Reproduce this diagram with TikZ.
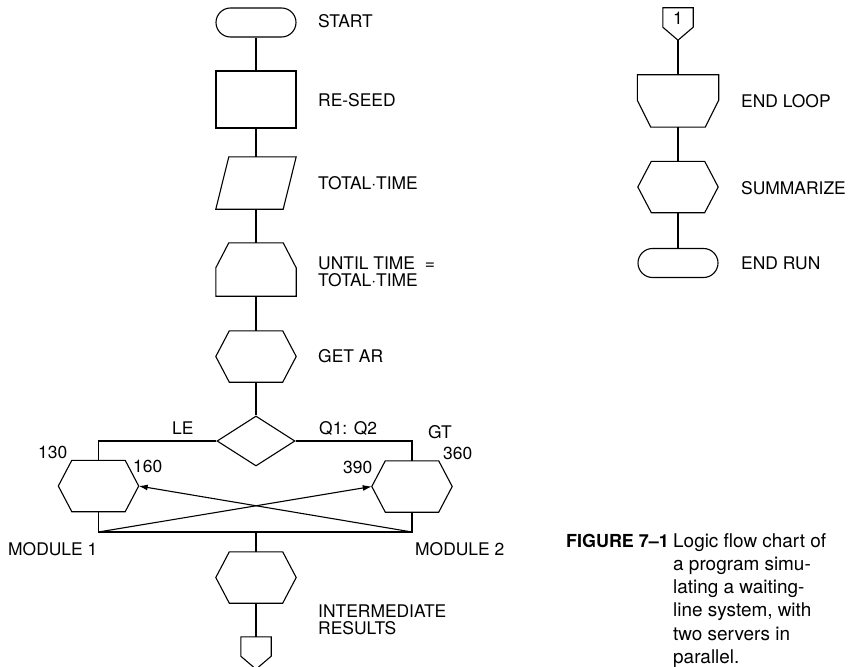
\documentclass[tikz,border=0pt]{standalone}
\usepackage{fontspec}
\setmainfont{TeX Gyre Heros}
\usetikzlibrary{arrows.meta, positioning, shapes.geometric, shapes.misc}
\newcommand{\lblfont}{\fontsize{17.5}{17}\selectfont}
\newcommand{\capfont}{\fontsize{19}{23.2}\selectfont}

\begin{document}
\begin{tikzpicture}[x=1bp, y=-1bp,
    every node/.style={inner sep=0pt},
    flow/.style={line width=1.1bp},
    terminal/.style={draw, line width=1.1bp, rounded rectangle, minimum width=80bp, minimum height=29bp},
    procbox/.style={draw, line width=1.1bp, rectangle, minimum width=80bp, minimum height=57bp},
    inputbox/.style={rectangle, minimum width=80bp, minimum height=52bp,
      append after command={\pgfextra{\draw[flow] ([xshift=13bp]\tikzlastnode.north west) -- (\tikzlastnode.north east)
        -- ([xshift=-13bp]\tikzlastnode.south east) -- (\tikzlastnode.south west) -- cycle;}}},
    loopstart/.style={rectangle, minimum width=80bp, minimum height=53bp,
      append after command={\pgfextra{\draw[flow] ([xshift=13bp]\tikzlastnode.north west) -- ([xshift=-13bp]\tikzlastnode.north east)
        -- ([yshift=-25bp]\tikzlastnode.north east) -- (\tikzlastnode.south east) -- (\tikzlastnode.south west)
        -- ([yshift=-25bp]\tikzlastnode.north west) -- cycle;}}},
    loopend/.style={rectangle, minimum width=81bp, minimum height=52bp,
      append after command={\pgfextra{\draw[flow] (\tikzlastnode.north west) -- (\tikzlastnode.north east)
        -- ([yshift=27bp]\tikzlastnode.south east) -- ([xshift=-13.5bp]\tikzlastnode.south east)
        -- ([xshift=13.5bp]\tikzlastnode.south west) -- ([yshift=27bp]\tikzlastnode.south west) -- cycle;}}},
    prep/.style={rectangle, minimum width=80bp, minimum height=51bp,
      append after command={\pgfextra{\draw[flow] ([xshift=13.5bp]\tikzlastnode.north west) -- ([xshift=-13.5bp]\tikzlastnode.north east)
        -- (\tikzlastnode.east) -- ([xshift=-13.5bp]\tikzlastnode.south east) -- ([xshift=13.5bp]\tikzlastnode.south west)
        -- (\tikzlastnode.west) -- cycle;}}},
    decide/.style={draw, line width=1.1bp, diamond, minimum width=78bp, minimum height=50bp},
    offpage/.style={rectangle, minimum width=30bp, minimum height=32bp,
      append after command={\pgfextra{\draw[flow] (\tikzlastnode.north west) -- (\tikzlastnode.north east)
        -- ([yshift=13bp]\tikzlastnode.south east) -- (\tikzlastnode.south) -- ([yshift=13bp]\tikzlastnode.south west) -- cycle;}}},
    lbl/.style={anchor=west, font=\lblfont, align=left},
]
  \useasboundingbox (0,0) rectangle (862,667);

  % main column
  \node[terminal] (start) at (256,22.5) {};
  \node[procbox] (reseed) at (256,99.5) {};
  \node[inputbox] (total) at (256,183) {};
  \node[loopstart] (until) at (256,269.5) {};
  \node[prep] (getar) at (256,356.5) {};
  \node[decide] (q) at (256,441) {};
  \node[prep] (mod1) at (98.5,486) {};
  \node[prep] (mod2) at (412,486.5) {};
  \node[prep] (inter) at (256,577.5) {};
  \node[offpage] (out) at (256,653) {};
  \coordinate (busL) at (98.5,532);
  \coordinate (busR) at (412,532);

  \foreach \a/\b in {start/reseed, reseed/total, total/until, until/getar, getar/q, inter/out}
    \draw[flow] (\a) -- (\b);
  \draw[flow] (q.west) -| (mod1);
  \draw[flow] (q.east) -| (mod2);
  \draw[flow] (mod1) -- (busL) -- (busR) -- (mod2);
  \draw[flow] (inter) -- (inter |- busL);
  \draw[flow, -{Latex[length=9bp, width=6bp]}] (busL) -- (mod2.west);
  \draw[flow, -{Latex[length=9bp, width=6bp]}] (busR) -- (mod1.east);

  \node[lbl] (lstart) at (318,21) {START};
  \node[lbl] (lreseed) at (318,100) {RE-SEED};
  \node[lbl] (ltotal) at (318,183) {TOTAL·TIME};
  \node[lbl] (luntil) at (318,272) {UNTIL TIME \ =\\TOTAL·TIME};
  \node[lbl] (lgetar) at (318,356) {GET AR};
  \node[lbl] (lle) at (172,428) {LE};
  \node[lbl] (lq) at (319,428) {Q1: Q2};
  \node[lbl] (lgt) at (428,432) {GT};
  \node[lbl] (l130) at (38,452) {130};
  \node[lbl] (l160) at (133,466) {160};
  \node[lbl] (l390) at (343,467) {390};
  \node[lbl] (l360) at (443,453) {360};
  \node[lbl] (lmod1) at (8,549) {MODULE 1};
  \node[lbl] (lmod2) at (415,549) {MODULE 2};
  \node[lbl] (linter) at (318,620) {INTERMEDIATE\\RESULTS};

  % right column
  \node[offpage] (conn) at (678,24) {};
  \node[font=\lblfont] (one) at (678,18) {1};
  \node[loopend] (endloop) at (678,101) {};
  \node[prep] (summ) at (678,187) {};
  \node[terminal] (endrun) at (678,263) {};
  \foreach \a/\b in {conn/endloop, endloop/summ, summ/endrun}
    \draw[flow] (\a) -- (\b);

  \node[lbl] (lendloop) at (741,101) {END LOOP};
  \node[lbl] (lsumm) at (741,188) {SUMMARIZE};
  \node[lbl] (lendrun) at (741,263) {END RUN};

  % caption
  \node[anchor=base west, font=\bfseries\fontsize{18}{18}\selectfont] (fig) at (566,547) {FIGURE 7–1};
  \node[anchor=north west, align=left, font=\capfont] (cap) at (673,533.5) {Logic flow chart of\\a program simu-\\lating a waiting-\\line system, with\\two servers in\\parallel.};
\end{tikzpicture}
\end{document}
